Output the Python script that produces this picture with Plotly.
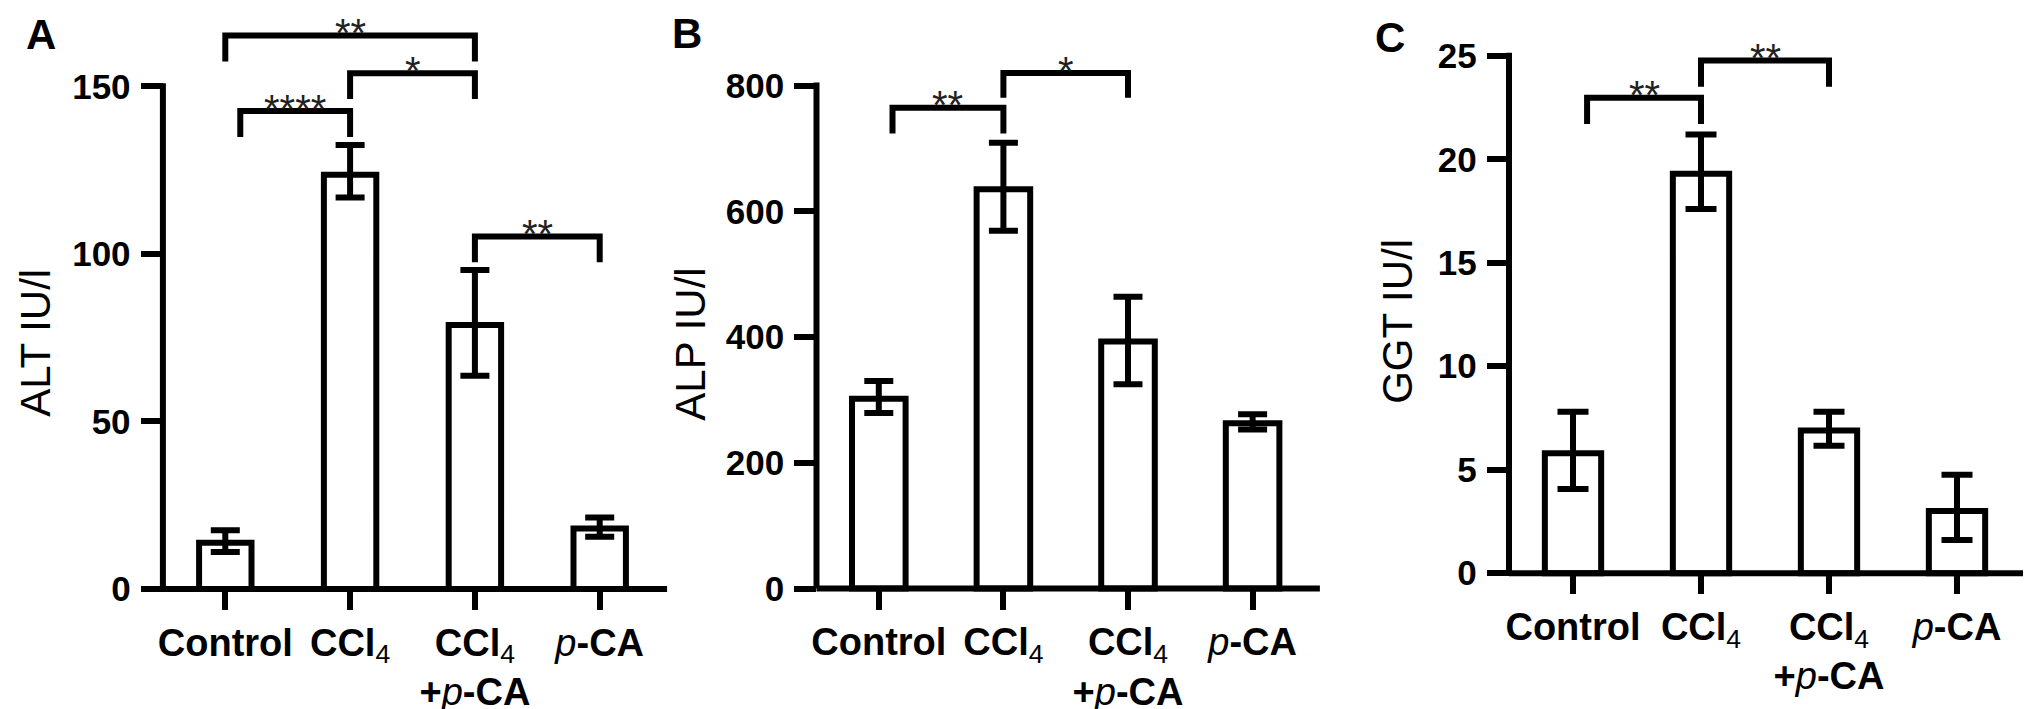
import plotly.graph_objects as go

W, H = 2031, 709

# ---------------- data ----------------
categories = ["Control", "CCl4", "CCl4+p-CA", "p-CA"]
tick_labels = [
    "<b>Control</b>",
    "<b>CCl</b><sub>4</sub>",
    "<b>CCl</b><sub>4</sub><br><b>+</b><i>p</i><b>-CA</b>",
    "<i>p</i><b>-CA</b>",
]

alt_mean = [13.8, 123.6, 78.8, 18.0]
alt_upper = [17.5, 132.5, 95.2, 21.3]
alt_lower = [11.0, 116.8, 63.6, 15.6]
alt_ticks = [0, 50, 100, 150]

alp_mean = [302, 635, 393, 263]
alp_upper = [330, 709, 464, 277]
alp_lower = [279, 569, 325, 253]
alp_ticks = [0, 200, 400, 600, 800]

ggt_mean = [5.8, 19.3, 6.9, 3.0]
ggt_upper = [7.8, 21.2, 7.8, 4.75]
ggt_lower = [4.07, 17.6, 6.16, 1.6]
ggt_ticks = [0, 5, 10, 15, 20, 25]

# significance brackets: (left category, right category, bar level, leg end level, label)
alt_brackets = [
    (0.12, 1, 142.6, 134.9, "****"),
    (1, 2, 153.9, 146.2, "*"),
    (0, 2, 165.2, 157.4, "**"),
    (2, 3, 105.2, 97.5, "**"),
]
alp_brackets = [
    (0.11, 1, 764.7, 723.8, "**"),
    (1, 2, 819.8, 780.5, "*"),
]
ggt_brackets = [
    (0.11, 1, 22.97, 21.7, "**"),
    (1, 2, 24.77, 23.5, "**"),
]

panels = [
    dict(letter="A", title="ALT IU/l", mean=alt_mean, up=alt_upper, lo=alt_lower,
         ticks=alt_ticks, brackets=alt_brackets),
    dict(letter="B", title="ALP IU/l", mean=alp_mean, up=alp_upper, lo=alp_lower,
         ticks=alp_ticks, brackets=alp_brackets),
    dict(letter="C", title="GGT IU/l", mean=ggt_mean, up=ggt_upper, lo=ggt_lower,
         ticks=ggt_ticks, brackets=ggt_brackets),
]

# ---------------- layout geometry (pixels) ----------------
geom = [
    dict(yax=154.6, cat0=217.3, step=124.8, base=586.7, k=3.384, bw=0.42, cap=14.5,
         letter_xy=(33, 27), title_xy=(28, 338)),
    dict(yax=808.2, cat0=870.8, step=124.6, base=586.3, k=0.635, bw=0.43, cap=14.5,
         letter_xy=(679, 26), title_xy=(683, 340)),
    dict(yax=1500.7, cat0=1565.0, step=128.0, base=570.8, k=20.9, bw=0.44, cap=15.5,
         letter_xy=(1382, 30), title_xy=(1390, 317)),
]

LW = 6
FONT = "Liberation Sans"
AX_END = 3.54
XR = (-0.75, 3.6)

fig = go.Figure()
shapes = []
annotations = []
layout = dict(width=W, height=H, margin=dict(l=0, r=0, t=0, b=0),
              paper_bgcolor="white", plot_bgcolor="white", showlegend=False,
              font=dict(family=FONT, color="black"))

for i, (p, g) in enumerate(zip(panels, geom)):
    n = "" if i == 0 else str(i + 1)
    xa, ya = "x" + n, "y" + n
    x0 = (g["cat0"] + XR[0] * g["step"]) / W
    x1 = (g["cat0"] + XR[1] * g["step"]) / W
    top_px, bot_px = 4, g["base"] + 12
    yr = (-(bot_px - g["base"]) / g["k"], (g["base"] - top_px) / g["k"])
    yd = (1 - bot_px / H, 1 - top_px / H)

    xs = list(range(len(categories)))
    fig.add_trace(go.Bar(
        x=xs, y=p["mean"], xaxis=xa, yaxis=ya, width=g["bw"],
        marker=dict(color="white", line=dict(color="black", width=LW)),
        error_y=dict(type="data", symmetric=False,
                     array=[u - m for u, m in zip(p["up"], p["mean"])],
                     arrayminus=[m - l for m, l in zip(p["mean"], p["lo"])],
                     thickness=LW, width=g["cap"], color="black"),
        hoverinfo="skip",
    ))

    layout["xaxis" + n] = dict(
        domain=[x0, x1], range=list(XR), anchor="free", position=1 - g["base"] / H,
        side="bottom", tickvals=xs, ticktext=tick_labels, ticks="outside",
        ticklen=20, tickwidth=LW, tickcolor="black", showline=False, showgrid=False,
        zeroline=False, tickfont=dict(size=38, family=FONT, color="black"),
        fixedrange=True,
    )
    layout["yaxis" + n] = dict(
        domain=list(yd), range=list(yr), anchor="free", position=g["yax"] / W,
        side="left", tickvals=p["ticks"], ticktext=[str(t) for t in p["ticks"]],
        ticks="outside", ticklen=22, tickwidth=LW, tickcolor="black",
        ticklabelstandoff=3,
        showline=False, showgrid=False, zeroline=False,
        tickfont=dict(size=35, family=FONT, color="black", weight="bold"),
        fixedrange=True,
    )

    ymax_tick = max(p["ticks"])
    shapes.append(dict(type="line", xref=xa, yref=ya, x0=-0.5, x1=-0.5, y0=0,
                       y1=ymax_tick + (LW / 2) / g["k"],
                       line=dict(color="black", width=LW)))
    shapes.append(dict(type="line", xref=xa, yref=ya, x0=-0.5, x1=AX_END, y0=0, y1=0,
                       line=dict(color="black", width=LW)))

    for (bl, br, ytop, yleg, lab) in p["brackets"]:
        shapes.append(dict(type="path", xref=xa, yref=ya,
                           path=f"M {bl},{yleg} L {bl},{ytop} L {br},{ytop} L {br},{yleg}",
                           line=dict(color="black", width=LW)))
        annotations.append(dict(x=(bl + br) / 2, y=ytop, xref=xa, yref=ya, text=lab,
                                showarrow=False, yanchor="middle", yshift=2.5,
                                font=dict(size=40, family=FONT, color="#222222")))

    lx, ly = g["letter_xy"]
    annotations.append(dict(x=lx / W, y=1 - ly / H, xref="paper", yref="paper",
                            text=p["letter"], showarrow=False, xanchor="center",
                            yanchor="middle",
                            font=dict(size=42, family=FONT, color="black", weight="bold")))
    tx, ty = g["title_xy"]
    annotations.append(dict(x=tx / W, y=1 - ty / H, xref="paper", yref="paper",
                            text=p["title"], showarrow=False, textangle=-90,
                            xanchor="center", yanchor="middle",
                            font=dict(size=42, family=FONT, color="black")))

layout["shapes"] = shapes
layout["annotations"] = annotations
fig.update_layout(**layout)
fig.write_html("out.html")
